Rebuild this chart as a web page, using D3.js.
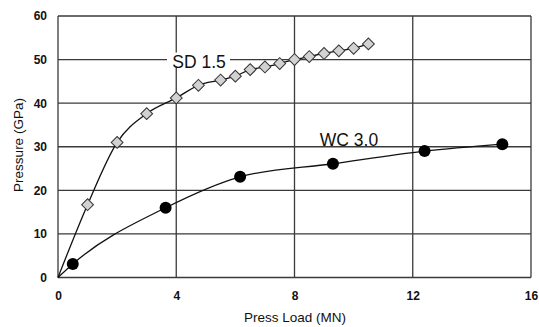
<!DOCTYPE html>
<html>
<head>
<meta charset="utf-8">
<script src="https://cdn.jsdelivr.net/npm/d3@7"></script>
<style>
  body { margin: 0; background: #fff; }
  svg text { font-family: Arial, "Liberation Sans", sans-serif; fill: #111; }
</style>
</head>
<body>
<div id="chart"></div>
<script>
// values
const xTicks = [0, 4, 8, 12, 16];
const yTicks = [0, 10, 20, 30, 40, 50, 60];

const sdLoad = [0, 1, 2, 3, 4, 4.75, 5.5, 6, 6.5, 7, 7.5, 8, 8.5, 9, 9.5, 10, 10.5];
const sdPressure = [0, 16.7, 31, 37.6, 41.2, 44.1, 45.3, 46.2, 47.7, 48.3, 49.1, 50, 50.7, 51.4, 52, 52.6, 53.6];

const wcLoad = [0, 0.5, 3.64, 6.16, 9.3, 12.4, 15.03];
const wcPressure = [0, 3.1, 16, 23.1, 26.1, 29, 30.6];

const margin = {top: 16, right: 8, bottom: 50, left: 58};
const width = 539, height = 327;
const w = width - margin.left - margin.right;
const h = height - margin.top - margin.bottom;

const svg = d3.select('#chart').append('svg')
  .attr('width', width)
  .attr('height', height);

const g = svg.append('g')
  .attr('transform', `translate(${margin.left},${margin.top})`);

const x = d3.scaleLinear().domain([0, 16]).range([0, 473]);
const y = d3.scaleLinear().domain([0, 60]).range([h + 0.5, 0]);

// grid
g.selectAll('.vgrid')
  .data(xTicks)
  .enter().append('line')
  .attr('x1', d => x(d)).attr('x2', d => x(d))
  .attr('y1', y(0)).attr('y2', y(60))
  .attr('stroke', '#3a3a3a').attr('stroke-width', 1.3);

g.selectAll('.hgrid')
  .data(yTicks)
  .enter().append('line')
  .attr('x1', x(0)).attr('x2', x(16))
  .attr('y1', d => y(d)).attr('y2', d => y(d))
  .attr('stroke', '#3a3a3a').attr('stroke-width', 1.3);

// axes (labels only)
const xAxis = g.append('g')
  .attr('transform', `translate(0,${y(0)})`)
  .call(d3.axisBottom(x).tickValues(xTicks).tickSize(0).tickPadding(14));
const yAxis = g.append('g')
  .call(d3.axisLeft(y).tickValues(yTicks).tickSize(0).tickPadding(11));
[xAxis, yAxis].forEach(a => {
  a.select('.domain').remove();
  a.selectAll('text')
    .style('font-size', '12px')
    .style('font-weight', 'bold')
    .attr('fill', '#222');
});

// axis titles
svg.append('text')
  .attr('x', 295).attr('y', 322)
  .attr('text-anchor', 'middle')
  .style('font-size', '13.5px')
  .text('Press Load (MN)');

svg.append('text')
  .attr('transform', 'translate(23,145) rotate(-90)')
  .attr('text-anchor', 'middle')
  .style('font-size', '13.5px')
  .text('Pressure (GPa)');

// series labels with white backing over the grid
function seriesLabel(cx, cy, x0, x1, label) {
  g.append('rect')
    .attr('x', x0 - margin.left).attr('y', cy - margin.top - 9)
    .attr('width', x1 - x0).attr('height', 14)
    .attr('fill', '#fff');
  g.append('text')
    .attr('x', cx - margin.left).attr('y', cy - margin.top + 6.5)
    .attr('text-anchor', 'middle')
    .style('font-size', '17.5px')
    .text(label);
}
seriesLabel(199, 61.5, 167, 230, 'SD 1.5');
seriesLabel(349, 139, 317, 386, 'WC 3.0');

const line = d3.line()
  .x(d => x(d[0]))
  .y(d => y(d[1]))
  .curve(d3.curveMonotoneX);

const sd = sdLoad.map((v, i) => [v, sdPressure[i]]);
const wc = wcLoad.map((v, i) => [v, wcPressure[i]]);

g.append('path').datum(sd)
  .attr('d', line).attr('fill', 'none')
  .attr('stroke', '#111').attr('stroke-width', 1.3);
g.append('path').datum(wc)
  .attr('d', line).attr('fill', 'none')
  .attr('stroke', '#111').attr('stroke-width', 1.3);

// markers
g.selectAll('.sd')
  .data(sd.slice(1))
  .enter().append('path')
  .attr('d', d3.symbol().type(d3.symbolSquare).size(70))
  .attr('transform', d => `translate(${x(d[0])},${y(d[1])}) rotate(45)`)
  .attr('fill', '#d2d2d2')
  .attr('stroke', '#333').attr('stroke-width', 1);

g.selectAll('.wc')
  .data(wc.slice(1))
  .enter().append('circle')
  .attr('cx', d => x(d[0]))
  .attr('cy', d => y(d[1]))
  .attr('r', 6)
  .attr('fill', '#000');
</script>
</body>
</html>
